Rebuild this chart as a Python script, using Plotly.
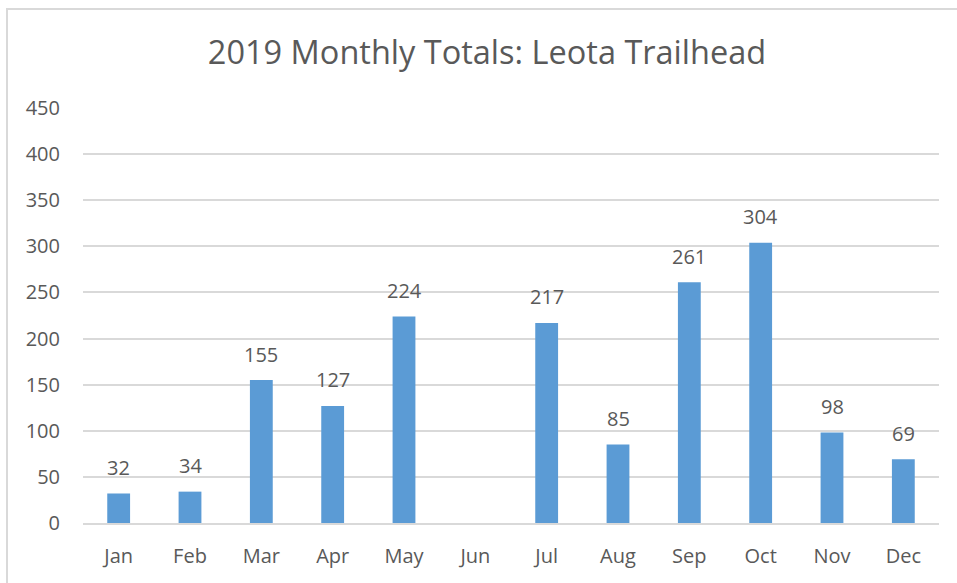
import plotly.graph_objects as go

months = ["Jan", "Feb", "Mar", "Apr", "May", "Jun", "Jul", "Aug", "Sep", "Oct", "Nov", "Dec"]
totals = [32, 34, 155, 127, 224, None, 217, 85, 261, 304, 98, 69]
y_ticks = [0, 50, 100, 150, 200, 250, 300, 350, 400, 450]
title_text = "2019 Monthly Totals: Leota Trailhead"

TEXT = "#595959"
GRID = "#D9D9D9"
BAR = "#5B9BD5"
FONT = "Open Sans"

fig = go.Figure(
    go.Bar(
        x=months,
        y=totals,
        marker=dict(color=BAR, line=dict(width=0)),
        width=0.32,
        hoverinfo="x+y",
    )
)

annotations = [
    dict(
        x=m,
        y=v,
        xref="x",
        yref="y",
        text=str(v),
        showarrow=False,
        yanchor="middle",
        xanchor="center",
        yshift=26,
        font=dict(family=FONT, size=20, color=TEXT),
    )
    for m, v in zip(months, totals)
    if v is not None
]

fig.update_layout(
    width=957,
    height=583,
    margin=dict(l=83, r=18, t=108, b=60),
    paper_bgcolor="white",
    plot_bgcolor="white",
    showlegend=False,
    title=dict(
        text=title_text,
        font=dict(family=FONT, size=32.5, color=TEXT),
        x=0.5 + (487 - 478.5) / 957,
        xanchor="center",
        y=1 - 53 / 583,
        yanchor="middle",
    ),
    font=dict(family=FONT, color=TEXT),
    annotations=annotations,
    shapes=[
        dict(
            type="rect",
            xref="paper",
            yref="paper",
            x0=(7 - 83) / 856,
            x1=(980 - 83) / 856,
            y0=(523 - 600) / 415,
            y1=(523 - 9) / 415,
            line=dict(color=GRID, width=2),
            fillcolor="rgba(0,0,0,0)",
            layer="below",
        )
    ],
)

fig.update_xaxes(
    showgrid=False,
    showline=True,
    linecolor=GRID,
    linewidth=2,
    tickfont=dict(family=FONT, size=20, color=TEXT),
    ticks="",
    ticklabelstandoff=14,
)
fig.update_yaxes(
    range=[0, 450],
    tickvals=y_ticks,
    showgrid=True,
    gridcolor=GRID,
    gridwidth=1.5,
    zeroline=False,
    showline=False,
    tickfont=dict(family=FONT, size=20, color=TEXT),
    ticklabelstandoff=22,
)

fig.write_html(
    "out.html",
    config={"displayModeBar": False},
    post_script="document.body.style.margin='0';document.body.style.overflow='hidden';",
)
